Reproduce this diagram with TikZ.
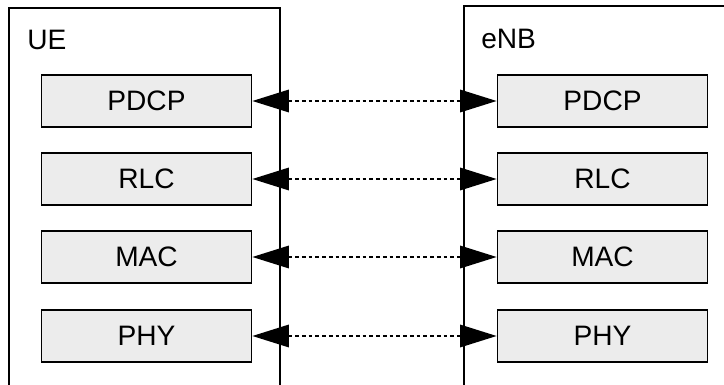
\documentclass[tikz,border=0pt]{standalone}
\usepackage{fontspec}
\setmainfont{Liberation Sans}
\usetikzlibrary{arrows.meta}

\begin{document}
\begin{tikzpicture}[x=0.025cm,y=-0.025cm,
  layer/.style={
    draw,line width=1.2pt,fill=gray!15,
    minimum width=5.25cm,minimum height=1.3cm,inner sep=0pt,
    font=\fontsize{20}{24}\selectfont,
  },
  entity/.style={anchor=base west,inner sep=0pt,font=\fontsize{20}{24}\selectfont},
  peer/.style={
    line width=1.25pt,dash pattern=on 2.6pt off 2.2pt,
    {Triangle[length=26pt,width=16pt]}-{Triangle[length=26pt,width=16pt]},
  }]
  \useasboundingbox (0,0) rectangle (724,385);
  % the two protocol stacks, open towards the bottom
  \draw[line width=1.2pt] (9,385) |- (280,8) -- (280,385);
  \draw[line width=1.2pt] (464,385) |- (724,6);
  \node[entity] (ue) at (27,50) {UE};
  \node[entity] (enb) at (481,48.5) {eNB};
  \foreach \name/\y in {PDCP/101,RLC/179,MAC/257,PHY/336} {
    \node[layer] (ue-\name) at (146.5,\y) {\name};
    \node[layer] (enb-\name) at (602.5,\y) {\name};
    \draw[peer] (ue-\name.east) -- (enb-\name.west);
  }
\end{tikzpicture}
\end{document}
